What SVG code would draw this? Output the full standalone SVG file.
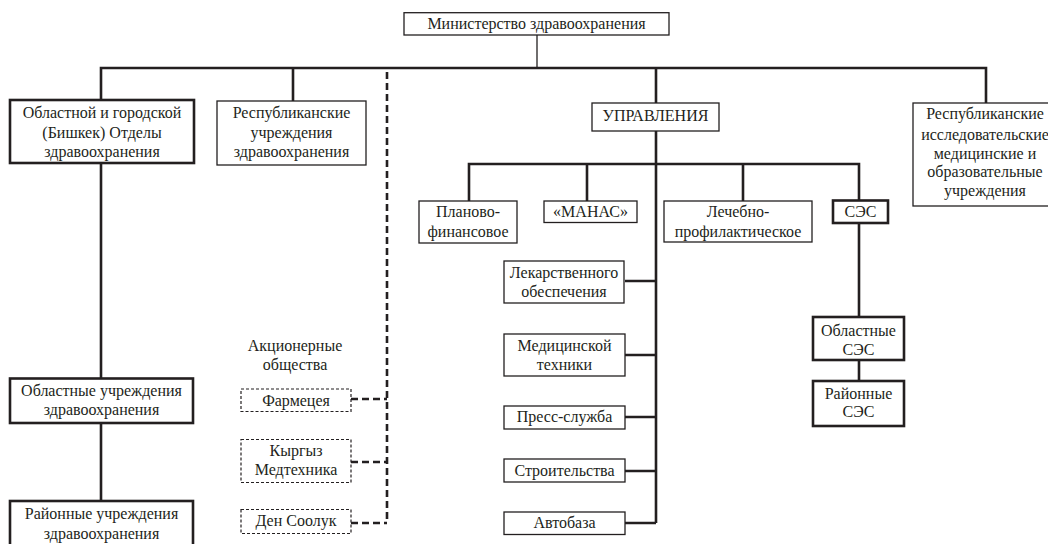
<svg xmlns="http://www.w3.org/2000/svg" width="1048" height="544" viewBox="0 0 1048 544">
<style>
text{font-family:"Liberation Serif","DejaVu Serif","Times New Roman",serif;font-size:16px;fill:#231f20;text-anchor:middle;dominant-baseline:central}
.b{fill:#fff;stroke:#231f20;stroke-width:1.3}
.k{fill:#fff;stroke:#231f20;stroke-width:2.6}
.d{fill:#fff;stroke:#231f20;stroke-width:1.2;stroke-dasharray:3 2}
.t{fill:none;stroke:#231f20;stroke-width:2.6}
.n{fill:none;stroke:#231f20;stroke-width:1.3}
.dl{fill:none;stroke:#231f20;stroke-width:2.6;stroke-dasharray:7 4}
</style>
<rect width="1048" height="544" fill="#fff"/>
<g id="connectors">
<path class="n" d="M537 35V68"/>
<path class="t" d="M101 100V68H986V103M293 68V101M656 68V103"/>
<path class="dl" d="M387 72V523"/>
<path class="dl" d="M351 399H387M351 462H387M351 523H387"/>
<path class="t" d="M101 163V378M101 423V501"/>
<path class="t" d="M656 131V523M469 201V164H859V200M587 164V201M743 164V201"/>
<path class="t" d="M859 223V317M859 360V381"/>
<path class="t" d="M625 281H656M625 355H656M625 417H656M625 471H656M625 523H656"/>
</g>
<g id="ministry"><rect class="b" x="404" y="12.7" width="265" height="22.3"/><text x="536.5" y="23.5">Министерство здравоохранения</text></g>
<g id="oblast-otdely"><rect class="k" x="10" y="100" width="184" height="63"/><text x="102" y="112.5">Областной и городской</text><text x="102" y="132">(Бишкек) Отделы</text><text x="102" y="151.5">здравоохранения</text></g>
<g id="resp-uchr"><rect class="b" x="217" y="101" width="149" height="64"/><text x="291.5" y="112.5">Республиканские</text><text x="291.5" y="132">учреждения</text><text x="291.5" y="151.5">здравоохранения</text></g>
<g id="upravleniya"><rect class="b" x="592" y="103" width="127" height="28"/><text x="655.5" y="115">УПРАВЛЕНИЯ</text></g>
<g id="resp-issl"><rect class="b" x="913" y="103" width="150" height="103"/><text x="985" y="113.5">Республиканские</text><text x="985" y="134">исследовательские</text><text x="985" y="153">медицинские и</text><text x="985" y="171.5">образовательные</text><text x="985" y="190">учреждения</text></g>
<g id="planovo"><rect class="b" x="419" y="201" width="98" height="42"/><text x="468" y="211">Планово-</text><text x="468" y="231">финансовое</text></g>
<g id="manas"><rect class="b" x="544" y="201" width="93" height="21.5"/><text x="590.5" y="211.5">«МАНАС»</text></g>
<g id="lechebno"><rect class="b" x="664" y="201" width="148" height="41"/><text x="738" y="211">Лечебно-</text><text x="738" y="231">профилактическое</text></g>
<g id="ses"><rect class="k" x="833" y="200.5" width="55" height="22.5"/><text x="860.5" y="211.5">СЭС</text></g>
<g id="lekarstv"><rect class="b" x="504" y="261" width="120" height="42"/><text x="564" y="272">Лекарственного</text><text x="564" y="291">обеспечения</text></g>
<g id="medtech"><rect class="b" x="504" y="334" width="121" height="42"/><text x="564.5" y="345">Медицинской</text><text x="564.5" y="364">техники</text></g>
<g id="press"><rect class="b" x="504" y="406" width="121" height="23"/><text x="564.5" y="416.5">Пресс-служба</text></g>
<g id="stroit"><rect class="b" x="504" y="459" width="121" height="23"/><text x="564.5" y="470">Строительства</text></g>
<g id="avtobaza"><rect class="b" x="504" y="512" width="121" height="22.5"/><text x="564.5" y="522.5">Автобаза</text></g>
<g id="obl-ses"><rect class="k" x="813" y="317" width="91" height="43"/><text x="858.5" y="330">Областные</text><text x="858.5" y="349.5">СЭС</text></g>
<g id="rayon-ses"><rect class="k" x="813" y="381" width="91" height="45"/><text x="858.5" y="393">Районные</text><text x="858.5" y="411.5">СЭС</text></g>
<g id="obl-uchr"><rect class="k" x="10" y="378.5" width="183" height="44.5"/><text x="101.5" y="390.5">Областные учреждения</text><text x="101.5" y="409.5">здравоохранения</text></g>
<g id="rayon-uchr"><rect class="k" x="10" y="501" width="183" height="50"/><text x="101.5" y="513">Районные учреждения</text><text x="101.5" y="533">здравоохранения</text></g>
<g id="ao-label"><text x="295" y="345.5">Акционерные</text><text x="295" y="364.5">общества</text></g>
<g id="farmetseya"><rect class="d" x="241" y="389" width="110" height="22.5"/><text x="296" y="400">Фармецея</text></g>
<g id="kyrgyz"><rect class="d" x="241" y="439.5" width="110" height="43"/><text x="296" y="450.5">Кыргыз</text><text x="296" y="469.5">Медтехника</text></g>
<g id="den-sooluk"><rect class="d" x="241" y="509.5" width="110" height="24"/><text x="296" y="520.5">Ден Соолук</text></g>
</svg>
